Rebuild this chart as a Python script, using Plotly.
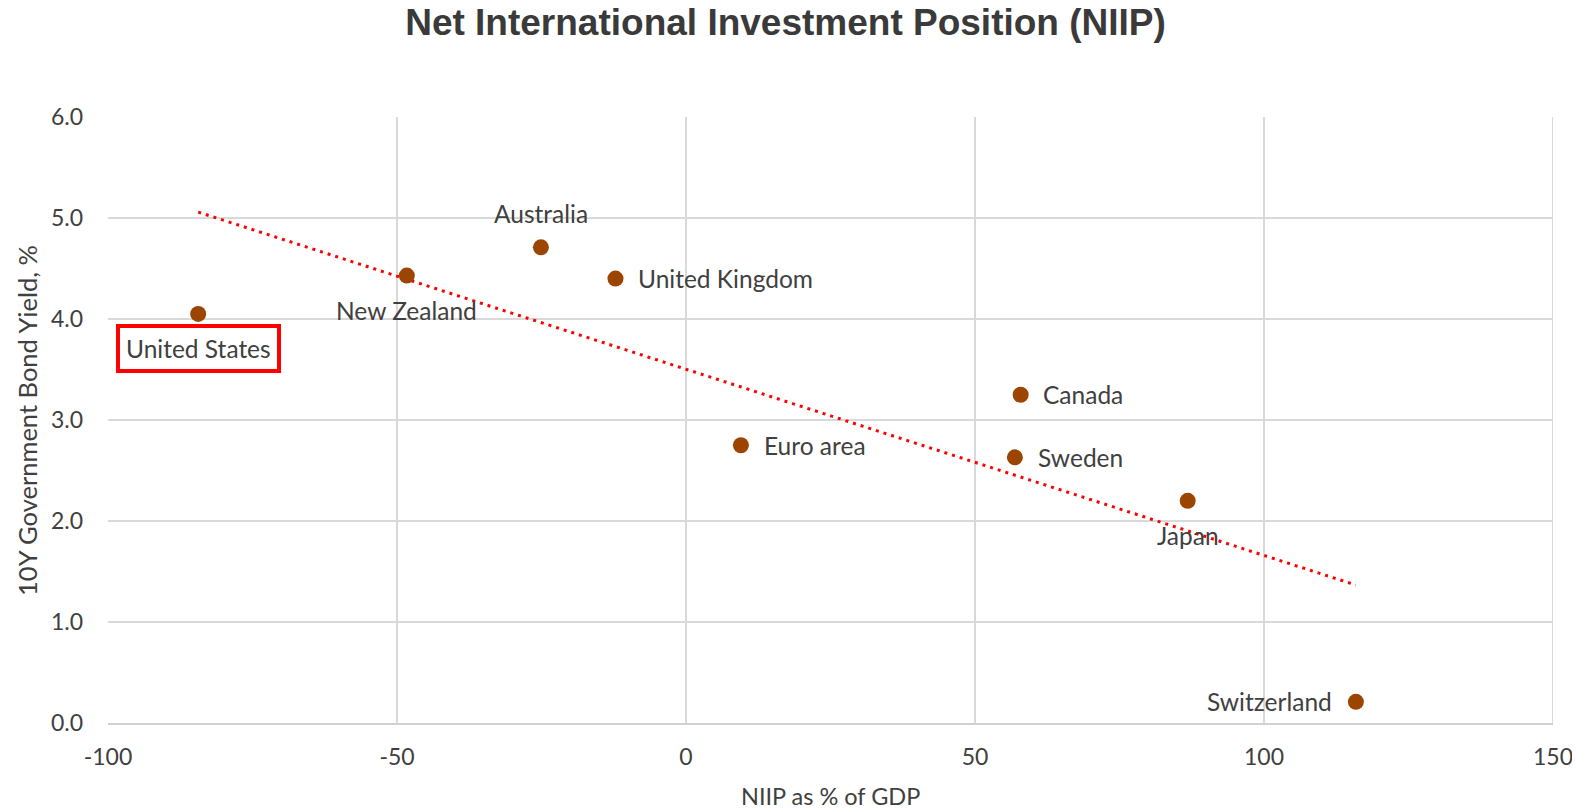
import numpy as np
import plotly.graph_objects as go

countries = ["United States", "New Zealand", "Australia", "United Kingdom", "Euro area",
             "Canada", "Sweden", "Japan", "Switzerland"]
niip = [-84.4, -48.3, -25.1, -12.2, 9.5, 57.9, 56.9, 86.8, 115.9]
yield10y = [4.05, 4.43, 4.71, 4.40, 2.75, 3.25, 2.63, 2.20, 0.21]
# label placement: (xanchor, xshift, yshift)
label_pos = {
    "United States": ("center", 0, -35),
    "New Zealand": ("center", 0, -35),
    "Australia": ("center", 0, 34),
    "United Kingdom": ("left", 21, 0),
    "Euro area": ("left", 21, 0),
    "Canada": ("left", 20, 0),
    "Sweden": ("left", 21, 0),
    "Japan": ("center", 0, -35),
    "Switzerland": ("right", -22, 0),
}
x_ticks = [-100, -50, 0, 50, 100, 150]
y_ticks = [0, 1, 2, 3, 4, 5, 6]

TXT = "#404040"
FONT = "Lato"

x = np.array(niip)
y = np.array(yield10y)
slope, intercept = np.polyfit(x, y, 1)
tx = np.array([x.min(), x.max()])
ty = slope * tx + intercept

fig = go.Figure()
fig.add_trace(go.Scatter(x=tx, y=ty, mode="lines",
                         line=dict(color="#FF0000", width=3, dash="3px,5px"),
                         hoverinfo="skip", showlegend=False))
fig.add_trace(go.Scatter(x=niip, y=yield10y, mode="markers", text=countries,
                         marker=dict(color="#9C4500", size=16, line=dict(width=0)),
                         showlegend=False))

for c, xv, yv in zip(countries, niip, yield10y):
    xa, xs, ys = label_pos[c]
    kw = {}
    if c == "United States":
        kw = dict(bordercolor="#FF0000", borderwidth=4, borderpad=6, bgcolor="white")
    fig.add_annotation(x=xv, y=yv, xref="x", yref="y", text=c, showarrow=False,
                       xanchor=xa, yanchor="middle", xshift=xs, yshift=ys,
                       font=dict(family=FONT, size=24.5, color=TXT), **kw)

# axis titles
fig.add_annotation(x=0.5, y=0, xref="paper", yref="paper", text="NIIP as % of GDP",
                   showarrow=False, xanchor="center", yanchor="middle", yshift=-73,
                   font=dict(family=FONT, size=23.5, color=TXT))
fig.add_annotation(x=-0.0561, y=0.5, xref="paper", yref="paper",
                   text="10Y Government Bond Yield, %", textangle=-90,
                   showarrow=False, xanchor="center", yanchor="middle",
                   font=dict(family=FONT, size=25.5, color=TXT))

fig.update_layout(
    width=1572, height=802,
    margin=dict(l=100, r=27, t=109, b=87),
    paper_bgcolor="white", plot_bgcolor="white",
    title=dict(text="<b>Net International Investment Position (NIIP)</b>",
               x=0.4946, xanchor="center", y=0.983, yanchor="middle",
               font=dict(family="Liberation Sans", size=37, color="#3A3A3A")),
    xaxis=dict(range=[-100, 150], tickvals=x_ticks, ticktext=[str(v) for v in x_ticks],
               showgrid=True, gridcolor="#D9D9D9", gridwidth=2, zeroline=False,
               showline=True, linecolor="#D0D0D0", linewidth=2, automargin=False,
               ticklabeloverflow="allow",
               tickfont=dict(family=FONT, size=23, color=TXT), ticklabelstandoff=12),
    yaxis=dict(range=[0, 6], tickvals=y_ticks, ticktext=[f"{v:.1f}" for v in y_ticks],
               showgrid=True, gridcolor="#D9D9D9", gridwidth=2, zeroline=False,
               showline=False, automargin=False, ticklabeloverflow="allow",
               tickfont=dict(family=FONT, size=23, color=TXT), ticklabelstandoff=24),
)
fig.add_shape(type="line", xref="x", yref="paper", x0=150, x1=150, y0=0, y1=1,
              line=dict(color="#D9D9D9", width=2), layer="below")

fig.write_html("out.html")
